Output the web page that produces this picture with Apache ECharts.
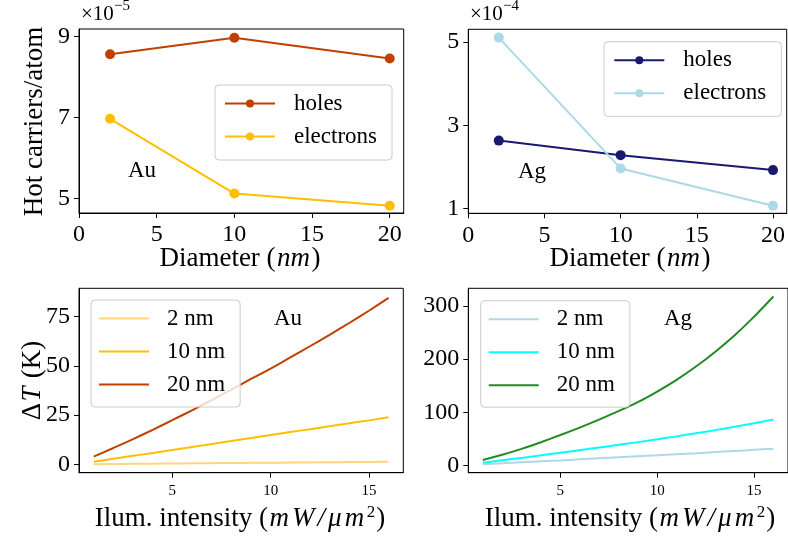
<!DOCTYPE html>
<html>
<head>
<meta charset="utf-8">
<script src="https://cdn.jsdelivr.net/npm/echarts@6/dist/echarts.min.js"></script>
<style>html,body{margin:0;padding:0;background:#fff}#c{width:788px;height:540px}</style>
</head>
<body>
<div id="c"></div>
<script>
// ---- data ----
const diameters = [2, 10, 20];
const auHoles = [8.565, 8.975, 8.46];        // x1e-5
const auElectrons = [6.97, 5.12, 4.82];      // x1e-5
const agHoles = [2.63, 2.28, 1.92];          // x1e-4
const agElectrons = [5.11, 1.96, 1.06];      // x1e-4

const intensity = [1, 2, 3, 4, 5, 6, 7, 8, 9, 10, 11, 12, 13, 14, 15, 16];
const au2nm  = [0.1, 0.18, 0.26, 0.34, 0.42, 0.5, 0.58, 0.66, 0.74, 0.82, 0.9, 0.98, 1.06, 1.14, 1.22, 1.3];
const au10nm = [1.3, 2.8, 4.3, 5.8, 7.3, 8.8, 10.3, 11.8, 13.4, 14.9, 16.4, 17.8, 19.3, 20.8, 22.3, 23.9];
const au20nm = [3.9, 8.3, 12.8, 17.5, 22.4, 27.4, 32.6, 37.9, 43.3, 48.6, 54.2, 59.9, 65.7, 71.7, 77.9, 84.4];
const ag2nm  = [2, 3.8, 5.6, 7.5, 9.3, 11.2, 13.1, 15, 16.9, 18.8, 20.8, 22.8, 24.9, 27, 29.2, 31.4];
const ag10nm = [5, 9.5, 14, 18.8, 23.7, 28.6, 33.6, 38.6, 43.7, 49, 54.5, 60.3, 66.3, 72.6, 79.3, 86.5];
const ag20nm = [10, 20, 31, 43.5, 57, 71, 86, 102, 119, 139, 161, 186, 214, 245, 280, 318];

const diamTicks = [0, 5, 10, 15, 20];
const auTopTicks = [5, 7, 9];
const agTopTicks = [1, 3, 5];
const intensityTicks = [5, 10, 15];
const auBottomTicks = [0, 25, 50, 75];
const agBottomTicks = [0, 100, 200, 300];

// ---- style ----
const FF = '"Liberation Serif", "DejaVu Serif", serif';
const C = {
  auHoles: '#c04000', auElec: '#ffbf00', agHoles: '#191970', agElec: '#add8e6',
  au2: '#ffd580', au10: '#ffbf00', au20: '#c04000',
  ag2: '#add8e6', ag10: '#00ffff', ag20: '#228b22'
};
const zip = (xs, ys) => xs.map((x, i) => [x, ys[i]]);

function xAxis(gi, min, max, ticks, fs, margin) {
  return {
    type: 'value', gridIndex: gi, min: min, max: max,
    splitLine: { show: false },
    axisLine: { show: true, onZero: false, lineStyle: { color: '#000', width: 1 } },
    axisTick: { show: true, inside: false, length: 5, customValues: ticks, lineStyle: { color: '#000', width: 1 } },
    axisLabel: { customValues: ticks, fontFamily: FF, fontSize: fs, color: '#000', margin: margin, showMinLabel: true, showMaxLabel: true }
  };
}
function yAxis(gi, min, max, ticks, fs) {
  return {
    type: 'value', gridIndex: gi, min: min, max: max,
    splitLine: { show: false },
    axisLine: { show: true, onZero: false, lineStyle: { color: '#000', width: 1 } },
    axisTick: { show: true, inside: false, length: 5, customValues: ticks, lineStyle: { color: '#000', width: 1 } },
    axisLabel: { customValues: ticks, fontFamily: FF, fontSize: fs, color: '#000', margin: 9, showMinLabel: true, showMaxLabel: true }
  };
}
function markerLine(name, gi, xs, ys, color) {
  return {
    name: name, type: 'line', xAxisIndex: gi, yAxisIndex: gi, data: zip(xs, ys),
    symbol: 'circle', symbolSize: 10, showSymbol: true,
    lineStyle: { color: color, width: 2 }, itemStyle: { color: color },
    emphasis: { disabled: true }, animation: false, z: 3
  };
}
function curve(name, gi, xs, ys, color) {
  return {
    name: name, type: 'line', xAxisIndex: gi, yAxisIndex: gi, data: zip(xs, ys),
    symbol: 'none', smooth: 0.2,
    lineStyle: { color: color, width: 2 }, itemStyle: { color: color },
    emphasis: { disabled: true }, animation: false, z: 3
  };
}
function legend(left, top, names, padding, textPad, lineOnly) {
  const l = {
    left: left, top: top, orient: 'vertical', data: names,
    itemWidth: 50, itemHeight: lineOnly ? 2 : 10, itemGap: 10, padding: padding,
    formatter: n => n.slice(3),
    selectedMode: false,
    backgroundColor: 'rgba(255,255,255,0.8)', borderColor: '#cccccc', borderWidth: 1, borderRadius: 4,
    textStyle: { fontFamily: FF, fontSize: 23, lineHeight: 23, color: '#000', padding: [0, 0, 0, textPad] }
  };
  if (lineOnly) l.icon = 'rect';
  return l;
}
function txt(x, y, text, fs, rot, rich) {
  return {
    type: 'text', x: x, y: y, rotation: rot || 0, silent: true,
    style: { text: text, fontFamily: FF, fontSize: fs, fill: '#000', align: 'center', verticalAlign: 'middle', rich: rich || {} }
  };
}
const richLab = {
  r: { fontFamily: FF, fontSize: 27, fill: '#000' },
  i: { fontFamily: FF, fontSize: 27, fontStyle: 'italic', fill: '#000', padding: [0, 1.5, 0, 1.5] },
  s: { fontFamily: FF, fontSize: 17, fontStyle: 'normal', fill: '#000', verticalAlign: 'top', padding: [0, 1, 12, 1] }
};

const chart = echarts.init(document.getElementById('c'), null, { renderer: 'canvas' });
chart.setOption({
  animation: false,
  backgroundColor: '#fff',
  grid: [
    { left: 79, top: 29, width: 324.7, height: 184, show: true, borderColor: '#000', borderWidth: 1, backgroundColor: 'transparent' },
    { left: 468.3, top: 29.3, width: 324.6, height: 184, show: true, borderColor: '#000', borderWidth: 1, backgroundColor: 'transparent' },
    { left: 79, top: 288.3, width: 324.3, height: 184.4, show: true, borderColor: '#000', borderWidth: 1, backgroundColor: 'transparent' },
    { left: 468.3, top: 288.3, width: 323, height: 184.4, show: true, borderColor: '#000', borderWidth: 1, backgroundColor: 'transparent' }
  ],
  xAxis: [
    xAxis(0, 0, 20.9, diamTicks, 24, 10),
    xAxis(1, 0, 20.9, diamTicks, 24, 10),
    xAxis(2, 0.25, 16.75, intensityTicks, 15, 11),
    xAxis(3, 0.25, 16.75, intensityTicks, 15, 11)
  ],
  yAxis: [
    yAxis(0, 4.64, 9.19, auTopTicks, 24),
    yAxis(1, 0.88, 5.31, agTopTicks, 24),
    yAxis(2, -4.25, 89.3, auBottomTicks, 24),
    yAxis(3, -13.9, 333.4, agBottomTicks, 24)
  ],
  legend: [
    legend(215, 85, ['Au holes', 'Au electrons'], [7, 15, 12, 9], 14, false),
    legend(604, 41.7, ['Ag holes', 'Ag electrons'], [7, 15, 11.7, 9.3], 14, false),
    legend(91, 300, ['Au 2 nm', 'Au 10 nm', 'Au 20 nm'], [7, 15, 11, 8], 13, true),
    legend(480.7, 300.7, ['Ag 2 nm', 'Ag 10 nm', 'Ag 20 nm'], [7, 15, 10.5, 8], 13, true)
  ],
  series: [
    markerLine('Au holes', 0, diameters, auHoles, C.auHoles),
    markerLine('Au electrons', 0, diameters, auElectrons, C.auElec),
    markerLine('Ag holes', 1, diameters, agHoles, C.agHoles),
    markerLine('Ag electrons', 1, diameters, agElectrons, C.agElec),
    curve('Au 2 nm', 2, intensity, au2nm, C.au2),
    curve('Au 10 nm', 2, intensity, au10nm, C.au10),
    curve('Au 20 nm', 2, intensity, au20nm, C.au20),
    curve('Ag 2 nm', 3, intensity, ag2nm, C.ag2),
    curve('Ag 10 nm', 3, intensity, ag10nm, C.ag10),
    curve('Ag 20 nm', 3, intensity, ag20nm, C.ag20)
  ],
  graphic: [
    // offset multipliers
    { type: 'text', x: 81, y: 4, silent: true, style: { text: '×10', fontFamily: FF, fontSize: 21, fill: '#000', align: 'left', verticalAlign: 'top' } },
    { type: 'text', x: 114, y: -1, silent: true, style: { text: '−5', fontFamily: FF, fontSize: 15, fill: '#000', align: 'left', verticalAlign: 'top' } },
    { type: 'text', x: 470, y: 4, silent: true, style: { text: '×10', fontFamily: FF, fontSize: 21, fill: '#000', align: 'left', verticalAlign: 'top' } },
    { type: 'text', x: 503, y: -1, silent: true, style: { text: '−4', fontFamily: FF, fontSize: 15, fill: '#000', align: 'left', verticalAlign: 'top' } },
    // axis titles
    txt(240, 259, '{r|Diameter (}{i|nm}{r|)}', 27, 0, richLab),
    txt(630, 259, '{r|Diameter (}{i|nm}{r|)}', 27, 0, richLab),
    txt(240, 519, '{r|Ilum. intensity (}{i|m}{i|W}{i|/}{i|μ}{i|m}{s|2}{r|)}', 27, 0, richLab),
    txt(630, 519, '{r|Ilum. intensity (}{i|m}{i|W}{i|/}{i|μ}{i|m}{s|2}{r|)}', 27, 0, richLab),
    txt(35, 121.5, 'Hot carriers/atom', 27, Math.PI / 2),
    txt(33, 380.5, '{r|Δ}{i|T}{r| (K)}', 27, Math.PI / 2, richLab),
    // annotations
    txt(142, 171, 'Au', 23),
    txt(532, 172, 'Ag', 23),
    txt(288, 319, 'Au', 23),
    txt(678, 319, 'Ag', 23)
  ]
});
</script>
</body>
</html>
